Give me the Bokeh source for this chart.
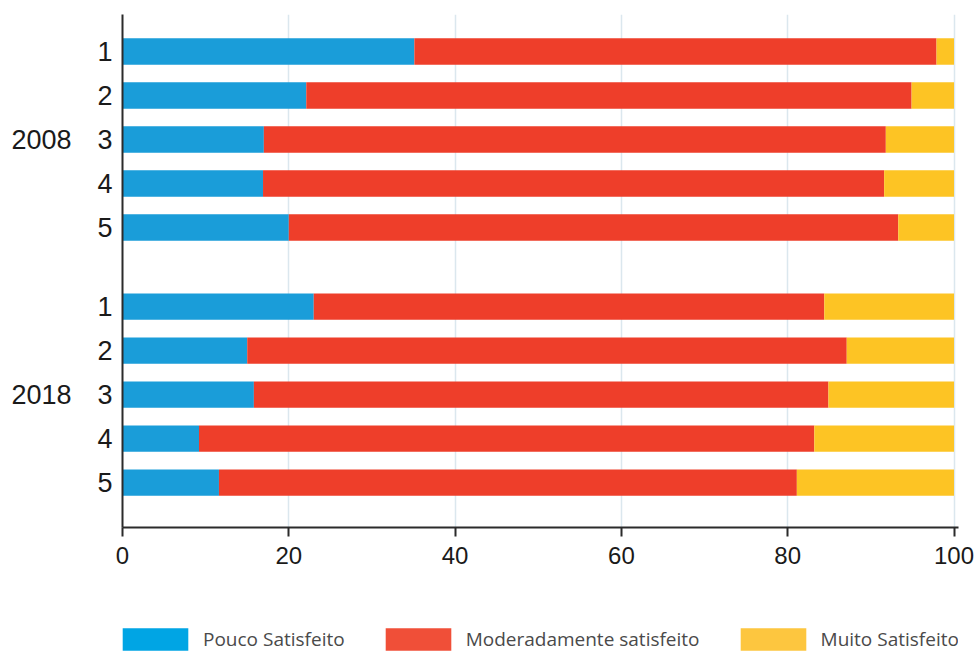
from bokeh.plotting import figure
from bokeh.layouts import column
from bokeh.models import (Range1d, FixedTicker, LinearAxis, Legend, LegendItem,
                          ColumnDataSource)
from bokeh.embed import file_html
from bokeh.resources import INLINE

# ---------------- data ----------------
years = ["2008", "2018"]
rows = ["1", "2", "3", "4", "5"]
pouco_2008 = [35.1, 22.1, 17.0, 16.9, 20.0]
moder_2008 = [62.8, 72.8, 74.8, 74.7, 73.3]
muito_2008 = [2.1, 5.1, 8.2, 8.4, 6.7]
pouco_2018 = [23.0, 15.0, 15.8, 9.2, 11.6]
moder_2018 = [61.4, 72.1, 69.1, 74.0, 69.5]
muito_2018 = [15.6, 12.9, 15.1, 16.8, 18.9]
series_names = ["Pouco Satisfeito", "Moderadamente satisfeito", "Muito Satisfeito"]
x_ticks = [0, 20, 40, 60, 80, 100]

# ---------------- layout helpers ----------------
GROUP_GAP = 0.8
colors = ["#1a9dd9", "#ee3e2a", "#fdc424"]
legend_colors = ["#00a5e4", "#f04f38", "#fdc63f"]
keys = ["pouco", "moder", "muito"]

ypos, row_lab = [], []
group_centers = []
for g, yr in enumerate(years):
    base = g * (len(rows) + GROUP_GAP)
    for r, lab in enumerate(rows):
        ypos.append(base + r)
        row_lab.append(lab)
    group_centers.append(base + (len(rows) - 1) / 2)

source = ColumnDataSource(dict(
    y=ypos,
    pouco=pouco_2008 + pouco_2018,
    moder=moder_2008 + moder_2018,
    muito=muito_2008 + muito_2018,
))

W, H = 977, 653
LEFT, TOP, BOTTOM = 122, 14, 53
FW, FH = 836, 513
RIGHT = W - LEFT - FW
PX_PER_UNIT = 8.315

p = figure(
    frame_width=FW, frame_height=FH,
    x_range=Range1d(0, FW / PX_PER_UNIT),
    y_range=Range1d(ypos[-1] + 1.02, -0.84),
    output_backend="svg", toolbar_location=None,
    min_border_left=LEFT, min_border_right=RIGHT, min_border_top=TOP,
    min_border_bottom=BOTTOM,
)
p.outline_line_color = None

p.hbar_stack(keys, y="y", height=0.6, color=colors, source=source, line_color=None)

# x axis
xt = FixedTicker(ticks=x_ticks)
p.xaxis.ticker = xt
p.xgrid.ticker = xt
p.xaxis.axis_line_color = "#2b2b2b"
p.xaxis.axis_line_width = 2
p.xaxis.major_tick_line_color = "#2b2b2b"
p.xaxis.major_tick_line_width = 2
p.xaxis.major_tick_out = 9
p.xaxis.major_tick_in = 0
p.xaxis.minor_tick_line_color = None
p.xaxis.major_label_standoff = 10
p.xaxis.major_label_text_font = "Liberation Sans"
p.xaxis.major_label_text_font_size = "24px"
p.xaxis.major_label_text_color = "#1a1a1a"

p.xgrid.grid_line_color = "#dbe7ee"
p.xgrid.grid_line_width = 1.5
p.ygrid.grid_line_color = None

# inner y axis (row labels)
ya = p.yaxis[0]
ya.ticker = FixedTicker(ticks=ypos)
ya.major_label_overrides = {v: l for v, l in zip(ypos, row_lab)}
ya.axis_line_color = "#2b2b2b"
ya.axis_line_width = 2
ya.major_tick_line_color = None
ya.major_tick_out = 0
ya.major_tick_in = 0
ya.minor_tick_line_color = None
ya.major_label_standoff = 10
ya.major_label_text_font = "Liberation Sans"
ya.major_label_text_font_size = "27px"
ya.major_label_text_color = "#1a1a1a"

# outer y axis (year labels)
ya2 = LinearAxis(ticker=FixedTicker(ticks=group_centers))
ya2.major_label_overrides = {v: l for v, l in zip(group_centers, years)}
ya2.axis_line_color = None
ya2.major_tick_line_color = None
ya2.major_tick_out = 0
ya2.major_tick_in = 0
ya2.minor_tick_line_color = None
ya2.major_label_standoff = 23
ya2.major_label_text_font = "Liberation Sans"
ya2.major_label_text_font_size = "27px"
ya2.major_label_text_color = "#1a1a1a"
p.add_layout(ya2, "left")

# ---------------- legend strip ----------------
main_h = TOP + FH + BOTTOM
leg_h = H - main_h

pl = figure(width=W, height=leg_h, x_range=Range1d(1000, 1001), y_range=Range1d(1000, 1001),
            output_backend="svg", toolbar_location=None,
            min_border_left=0, min_border_right=0, min_border_top=0, min_border_bottom=0,
            x_axis_type=None, y_axis_type=None)
pl.outline_line_color = None
pl.grid.visible = False
# same data, far outside this strip's visible ranges: only feeds the legend swatches
lr = pl.hbar_stack(keys, y="y", height=0.6, color=legend_colors, source=source,
                   line_color=None)

legend = Legend(
    items=[LegendItem(label=n, renderers=[r]) for n, r in zip(series_names, lr)],
    orientation="horizontal", location=(-8, 0),
    glyph_width=82, glyph_height=28, label_height=28,
    label_standoff=7, spacing=32, padding=0, margin=0,
    border_line_color=None, background_fill_alpha=0,
    label_text_font="Open Sans", label_text_font_size="19px",
    label_text_color="#4a4a4a",
)
pl.add_layout(legend, "center")

open("out.html", "w").write(file_html(column(p, pl, spacing=0), INLINE))
